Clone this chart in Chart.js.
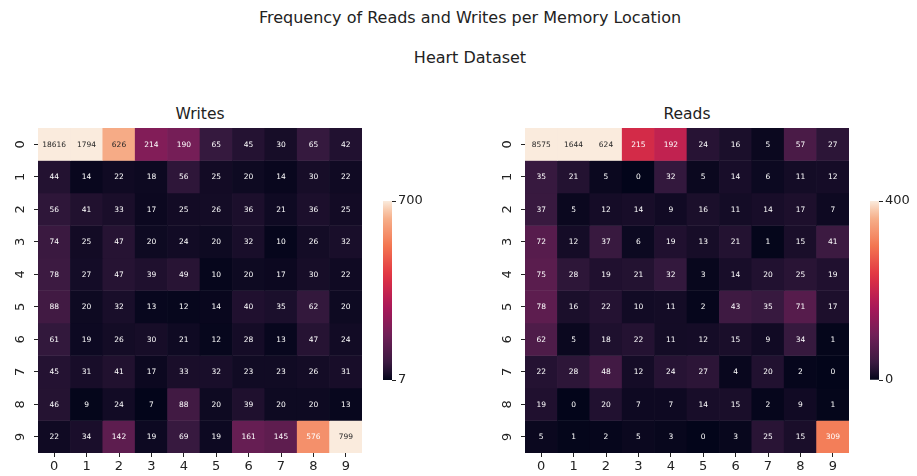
<!DOCTYPE html>
<html>
<head>
<meta charset="utf-8">
<script src="https://cdn.jsdelivr.net/npm/chart.js@4.4.0/dist/chart.umd.min.js"></script>
<style>
  body { margin: 0; width: 917px; height: 476px; background: #fff; position: relative; overflow: hidden; font-family: "DejaVu Sans", sans-serif; color: #222; }
  .title { position: absolute; text-align: center; font-size: 16px; line-height: 20px; }
  canvas { position: absolute; }
</style>
</head>
<body>
<div class="title" style="left:0;width:940px;top:8px;">Frequency of Reads and Writes per Memory Location</div>
<div class="title" style="left:0;width:940px;top:48px;">Heart Dataset</div>
<div class="title" style="left:38px;width:324px;top:104px;font-size:15.5px;">Writes</div>
<div class="title" style="left:525px;width:324px;top:104px;font-size:15.5px;">Reads</div>

<canvas id="writesMap" width="362" height="348" style="left:0;top:128px;"></canvas>
<canvas id="writesBar" width="60" height="200" style="left:375px;top:190px;"></canvas>
<canvas id="readsMap" width="362" height="348" style="left:487px;top:128px;"></canvas>
<canvas id="readsBar" width="55" height="200" style="left:862px;top:190px;"></canvas>

<script>
const xLabels = ['0', '1', '2', '3', '4', '5', '6', '7', '8', '9'];
const yLabels = ['0', '1', '2', '3', '4', '5', '6', '7', '8', '9'];

// rows = memory location (y), columns = x
const writes = [
  [18616, 1794, 626, 214, 190, 65, 45, 30, 65, 42],
  [44, 14, 22, 18, 56, 25, 20, 14, 30, 22],
  [56, 41, 33, 17, 25, 26, 36, 21, 36, 25],
  [74, 25, 47, 20, 24, 20, 32, 10, 26, 32],
  [78, 27, 47, 39, 49, 10, 20, 17, 30, 22],
  [88, 20, 32, 13, 12, 14, 40, 35, 62, 20],
  [61, 19, 26, 30, 21, 12, 28, 13, 47, 24],
  [45, 31, 41, 17, 33, 32, 23, 23, 26, 31],
  [46, 9, 24, 7, 88, 20, 39, 20, 20, 13],
  [22, 34, 142, 19, 69, 19, 161, 145, 576, 799]
];
const reads = [
  [8575, 1644, 624, 215, 192, 24, 16, 5, 57, 27],
  [35, 21, 5, 0, 32, 5, 14, 6, 11, 12],
  [37, 5, 12, 14, 9, 16, 11, 14, 17, 7],
  [72, 12, 37, 6, 19, 13, 21, 1, 15, 41],
  [75, 28, 19, 21, 32, 3, 14, 20, 25, 19],
  [78, 16, 22, 10, 11, 2, 43, 35, 71, 17],
  [62, 5, 18, 22, 11, 12, 15, 9, 34, 1],
  [22, 28, 48, 12, 24, 27, 4, 20, 2, 0],
  [19, 0, 20, 7, 7, 14, 15, 2, 9, 1],
  [5, 1, 2, 5, 3, 0, 3, 25, 15, 309]
];
const writesRange = [7, 700];
const readsRange = [0, 400];

// seaborn "rocket" colormap, approximated
const rocket = [
  [0.0, [3, 5, 26]],
  [0.083, [53, 25, 62]],
  [0.25, [112, 31, 87]],
  [0.417, [173, 23, 89]],
  [0.583, [225, 51, 66]],
  [0.75, [243, 118, 81]],
  [0.917, [246, 180, 143]],
  [1.0, [250, 235, 221]]
];

function rocketRgb(t) {
  t = Math.max(0, Math.min(1, t));
  for (let i = 1; i < rocket.length; i++) {
    if (t <= rocket[i][0]) {
      const [t0, c0] = rocket[i - 1];
      const [t1, c1] = rocket[i];
      const f = (t - t0) / (t1 - t0);
      return c0.map((c, k) => Math.round(c + (c1[k] - c) * f));
    }
  }
  return rocket[rocket.length - 1][1];
}
const rgbStr = (c) => `rgb(${c[0]},${c[1]},${c[2]})`;

function luminance(c) {
  const lin = c.map(v => {
    v /= 255;
    return v <= 0.03928 ? v / 12.92 : Math.pow((v + 0.055) / 1.055, 2.4);
  });
  return 0.2126 * lin[0] + 0.7152 * lin[1] + 0.0722 * lin[2];
}

const axisFont = { family: 'DejaVu Sans', size: 13 };

// writes cell values on top of the bars
const annotate = {
  id: 'annotate',
  afterDatasetsDraw(chart) {
    const ctx = chart.ctx;
    ctx.save();
    ctx.font = '7.5px "DejaVu Sans"';
    ctx.textAlign = 'center';
    ctx.textBaseline = 'middle';
    chart.data.datasets.forEach((ds, i) => {
      chart.getDatasetMeta(i).data.forEach((bar, j) => {
        const c = ds.cellRgb[j];
        ctx.fillStyle = luminance(c) > 0.408 ? '#262626' : '#ffffff';
        ctx.fillText(String(ds.values[j]), bar.x, (bar.y + bar.base) / 2 + 0.5);
      });
    });
    ctx.restore();
  }
};

function fitAxis(size, horizontal) {
  return (scale) => {
    if (horizontal) scale.height = size; else scale.width = size;
    scale.paddingTop = 0;
    scale.paddingBottom = 0;
    scale.paddingLeft = 0;
    scale.paddingRight = 0;
  };
}

function heatmap(canvasId, matrix, range) {
  const datasets = matrix.map((row, i) => {
    const cellRgb = row.map(v => rocketRgb((v - range[0]) / (range[1] - range[0])));
    return {
      label: yLabels[i],
      data: row.map(() => 1),
      values: row,
      cellRgb: cellRgb,
      backgroundColor: cellRgb.map(rgbStr),
      borderWidth: 0,
      barPercentage: 1,
      categoryPercentage: 1
    };
  });
  return new Chart(document.getElementById(canvasId), {
    type: 'bar',
    data: { labels: xLabels, datasets: datasets },
    options: {
      responsive: false,
      animation: false,
      layout: { padding: 0 },
      plugins: { legend: { display: false }, tooltip: { enabled: false } },
      scales: {
        x: {
          stacked: true,
          offset: true,
          grid: { offset: false, drawOnChartArea: false, tickLength: 4, color: '#222', tickColor: '#222' },
          border: { display: false },
          ticks: { font: axisFont, color: '#222', padding: 2, maxRotation: 0, autoSkip: false },
          afterFit: fitAxis(23, true)
        },
        y: {
          type: 'linear',
          stacked: true,
          reverse: true,
          min: 0,
          max: yLabels.length,
          afterBuildTicks: (scale) => {
            scale.ticks = yLabels.map((l, i) => ({ value: i + 0.5 }));
          },
          grid: { drawOnChartArea: false, tickLength: 4, color: '#222', tickColor: '#222' },
          border: { display: false },
          ticks: {
            font: axisFont, color: '#222', padding: 9, autoSkip: false,
            minRotation: 90, maxRotation: 90, crossAlign: 'center',
            callback: (v) => yLabels[Math.floor(v)]
          },
          afterFit: fitAxis(38, false)
        }
      }
    },
    plugins: [annotate]
  });
}

function colorbar(canvasId, range, axisWidth) {
  return new Chart(document.getElementById(canvasId), {
    type: 'bar',
    data: {
      labels: [''],
      datasets: [{
        data: [range],
        borderWidth: 0,
        barPercentage: 1,
        categoryPercentage: 1,
        backgroundColor: (ctx) => {
          const chart = ctx.chart;
          const area = chart.chartArea;
          if (!area) return null;
          const y = chart.scales.y;
          const g = chart.ctx.createLinearGradient(0, y.getPixelForValue(range[0]), 0, y.getPixelForValue(range[1]));
          for (let i = 0; i <= 20; i++) g.addColorStop(i / 20, rgbStr(rocketRgb(i / 20)));
          return g;
        }
      }]
    },
    options: {
      responsive: false,
      animation: false,
      layout: { padding: { left: 8, top: 11, bottom: 10, right: 0 } },
      plugins: { legend: { display: false }, tooltip: { enabled: false } },
      scales: {
        x: { display: false },
        y: {
          position: 'right',
          min: range[0],
          max: range[1],
          afterBuildTicks: (scale) => {
            scale.ticks = range.map(v => ({ value: v }));
          },
          grid: { drawOnChartArea: false, tickLength: 4, color: '#222', tickColor: '#222' },
          border: { display: false },
          ticks: { font: axisFont, color: '#222', padding: 2, callback: (v) => String(v) },
          afterFit: fitAxis(axisWidth, false)
        }
      }
    }
  });
}

heatmap('writesMap', writes, writesRange);
colorbar('writesBar', writesRange, 43);
heatmap('readsMap', reads, readsRange);
colorbar('readsBar', readsRange, 38);
</script>
</body>
</html>
